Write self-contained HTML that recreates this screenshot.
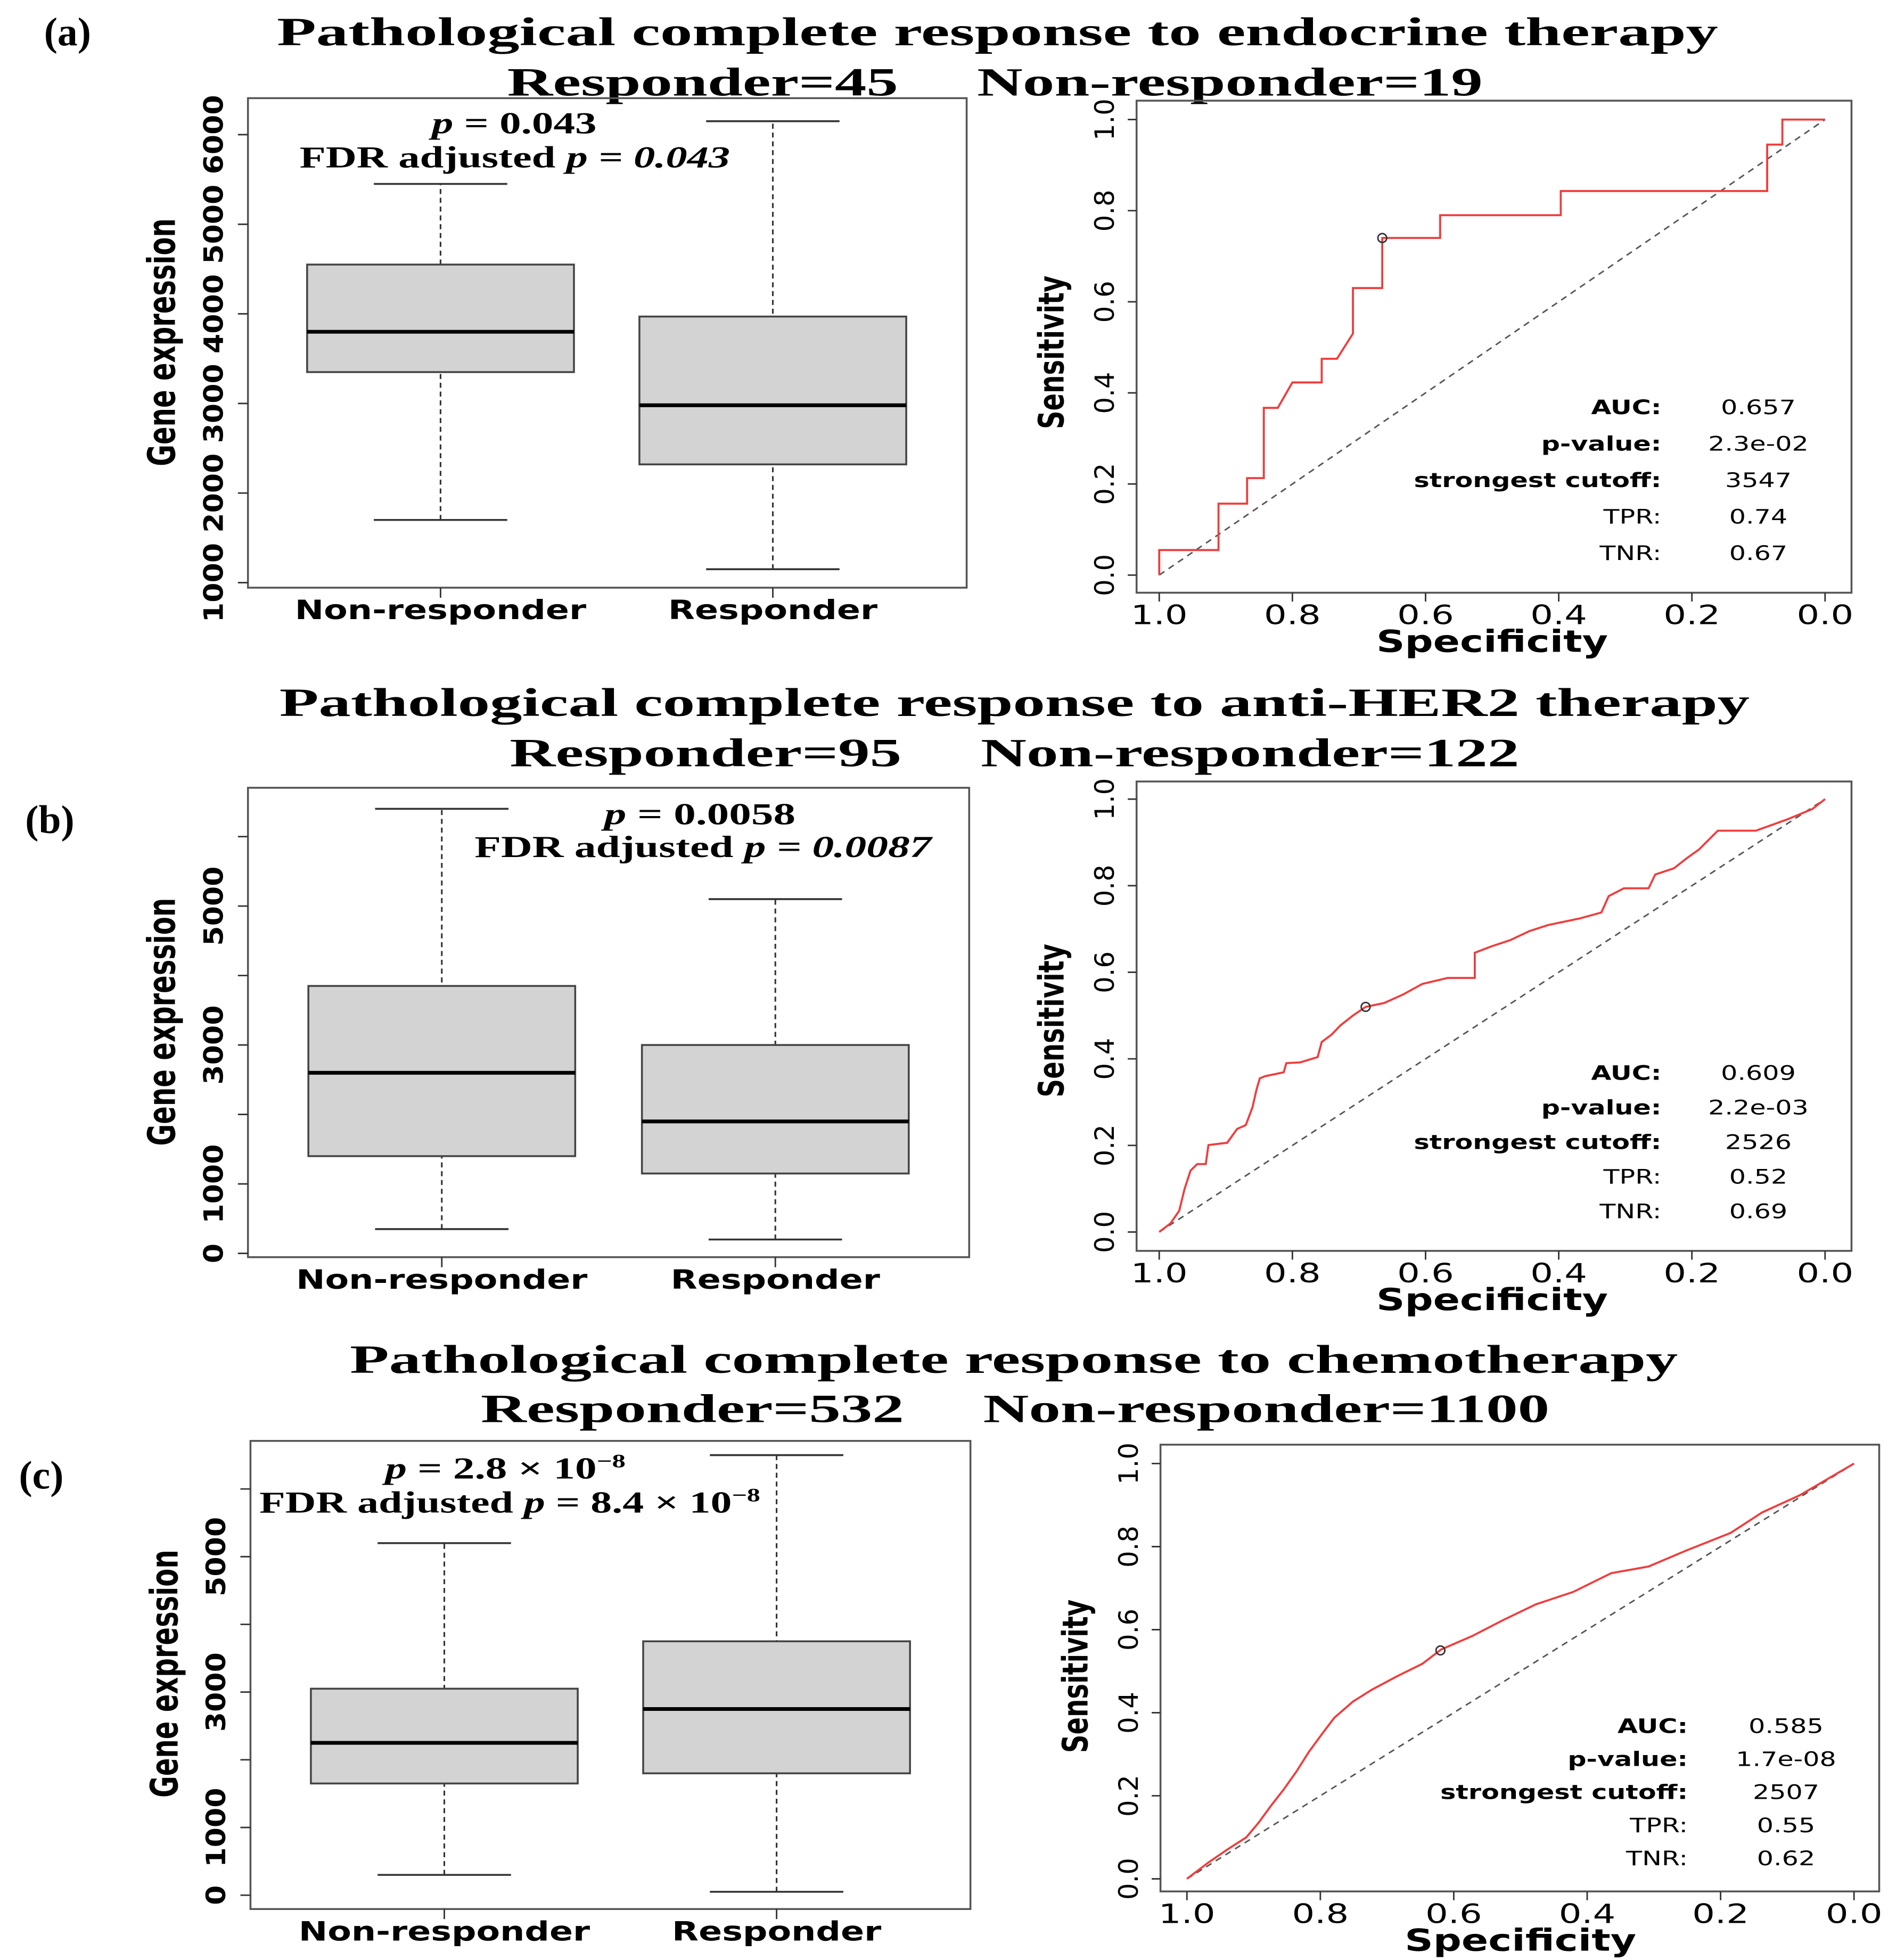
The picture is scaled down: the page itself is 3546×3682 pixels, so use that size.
<!DOCTYPE html>
<html><head><meta charset="utf-8"><style>
html,body{margin:0;padding:0;background:#fff;}
svg{display:block;}
.title{font-family:"Liberation Serif",serif;font-weight:bold;font-size:32px;fill:#000;}
.lbl{font-family:"DejaVu Sans",sans-serif;font-weight:bold;fill:#000;}
.tick{font-family:"DejaVu Sans",sans-serif;font-size:21px;fill:#000;}
.ptxt{font-family:"Liberation Serif",serif;font-weight:bold;font-size:24px;fill:#000;}
.stat{font-family:"DejaVu Sans",sans-serif;font-size:16px;fill:#000;}
</style></head><body>
<svg id="fig" width="3546" height="3682" viewBox="0 0 1500 1557.5" preserveAspectRatio="none" xmlns="http://www.w3.org/2000/svg">
<rect x="0" y="0" width="1500" height="1558" fill="#fff"/>
<text class="title" x="35" y="36" font-size="34">(a)</text>
<text class="title" x="220" y="36" textLength="1145" lengthAdjust="spacingAndGlyphs">Pathological complete response to endocrine therapy</text>
<text class="title" x="403" y="76" textLength="775" lengthAdjust="spacingAndGlyphs" xml:space="preserve">Responder=45     Non-responder=19</text>
<text class="title" x="20" y="662" font-size="34">(b)</text>
<text class="title" x="222" y="569" textLength="1168" lengthAdjust="spacingAndGlyphs">Pathological complete response to anti-HER2 therapy</text>
<text class="title" x="405" y="609" textLength="802" lengthAdjust="spacingAndGlyphs" xml:space="preserve">Responder=95     Non-responder=122</text>
<text class="title" x="15" y="1183" font-size="34">(c)</text>
<text class="title" x="278" y="1091" textLength="1055" lengthAdjust="spacingAndGlyphs">Pathological complete response to chemotherapy</text>
<text class="title" x="382" y="1130" textLength="849" lengthAdjust="spacingAndGlyphs" xml:space="preserve">Responder=532     Non-responder=1100</text>
<text class="ptxt" x="343" y="106" textLength="131" lengthAdjust="spacingAndGlyphs"><tspan font-style="italic">p</tspan> = 0.043</text>
<text class="ptxt" x="238" y="133" textLength="342" lengthAdjust="spacingAndGlyphs">FDR adjusted <tspan font-style="italic">p = 0.043</tspan></text>
<text class="ptxt" x="480" y="655" textLength="152" lengthAdjust="spacingAndGlyphs"><tspan font-style="italic">p</tspan> = 0.0058</text>
<text class="ptxt" x="377" y="681" textLength="363" lengthAdjust="spacingAndGlyphs">FDR adjusted <tspan font-style="italic">p = 0.0087</tspan></text>
<text class="ptxt" x="306" y="1175" textLength="191" lengthAdjust="spacingAndGlyphs"><tspan font-style="italic">p</tspan> = 2.8 × 10<tspan font-size="15" dy="-9">−8</tspan></text>
<text class="ptxt" x="206" y="1202" textLength="398" lengthAdjust="spacingAndGlyphs">FDR adjusted <tspan font-style="italic">p</tspan> = 8.4 × 10<tspan font-size="15" dy="-9">−8</tspan></text>
<g id="layer"></g>
</svg>
<script>
const NS="http://www.w3.org/2000/svg";
// ---------- DATA ----------
const categories=["Non-responder","Responder"];
// [lower whisker, q1, median, q3, upper whisker]
const boxA_nonresp=[1700,3350,3800,4550,5450];
const boxA_resp=[1150,2320,2980,3970,6150];
const boxB_nonresp=[350,1400,2600,3850,6400];
const boxB_resp=[200,1150,1900,3000,5100];
const boxC_nonresp=[300,1650,2250,3050,5200];
const boxC_resp=[50,1800,2750,3750,6500];
const yTicksA=[1000,2000,3000,4000,5000,6000];
const yLabelsA=["1000","2000","3000","4000","5000","6000"];
const yTicksB=[0,1000,2000,3000,4000,5000,6000];
const yLabelsB=["0","1000","","3000","","5000",""];
const yTicksC=[0,1000,2000,3000,4000,5000,6000];
const yLabelsC=["0","1000","","3000","","5000",""];
const rocTicks=[1,0.8,0.6,0.4,0.2,0];
const rocTickLabels=["1.0","0.8","0.6","0.4","0.2","0.0"];
const rocYTicks=[0,0.2,0.4,0.6,0.8,1];
const rocYTickLabels=["0.0","0.2","0.4","0.6","0.8","1.0"];
const rocA_spec=[1,1,.911,.911,.868,.868,.843,.843,.822,.80,.756,.756,.733,.709,.709,.665,.665,.578,.578,.397,.397,.087,.087,.064,.064,0];
const rocA_sens=[0,.055,.055,.157,.157,.213,.213,.367,.367,.423,.423,.475,.475,.530,.630,.630,.740,.740,.790,.790,.843,.843,.945,.945,1,1];
const rocA_best=[0.665,0.74];
const rocB_spec=[1,.983,.970,.962,.953,.943,.930,.926,.898,.883,.870,.860,.854,.849,.841,.813,.809,.788,.762,.756,.741,.728,.709,.690,.662,.633,.605,.567,.526,.526,.501,.473,.444,.416,.369,.336,.325,.302,.265,.255,.227,.208,.189,.161,.104,.057,.019,0];
const rocB_sens=[0,.020,.049,.099,.142,.157,.157,.201,.206,.238,.247,.288,.328,.355,.360,.369,.390,.392,.404,.439,.456,.477,.500,.520,.529,.549,.573,.587,.587,.645,.660,.674,.695,.709,.724,.738,.776,.794,.794,.826,.840,.863,.884,.927,.927,.953,.977,1];
const rocB_best=[0.69,0.52];
const rocC_spec=[1,.968,.940,.911,.892,.874,.855,.836,.817,.798,.779,.751,.723,.685,.647,.619,.572,.525,.477,.421,.364,.308,.251,.185,.138,.081,0];
const rocC_sens=[0,.039,.070,.100,.136,.176,.215,.258,.306,.348,.388,.427,.455,.488,.518,.552,.585,.624,.661,.691,.736,.752,.791,.833,.882,.924,1];
const rocC_best=[0.62,0.55];
const statLabels=["AUC:","p-value:","strongest cutoff:","TPR:","TNR:"];
const statsA=["0.657","2.3e-02","3547","0.74","0.67"];
const statsB=["0.609","2.2e-03","2526","0.52","0.69"];
const statsC=["0.585","1.7e-08","2507","0.55","0.62"];

// ---------- LAYOUT ----------
const layer=document.getElementById('layer');
function el(tag,attrs,text){const e=document.createElementNS(NS,tag);for(const k in attrs)e.setAttribute(k,attrs[k]);if(text!==undefined)e.textContent=text;layer.appendChild(e);return e;}
function stretch(e,f){const w=e.getComputedTextLength();e.setAttribute('textLength',(w*f).toFixed(1));e.setAttribute('lengthAdjust','spacingAndGlyphs');}

function boxPlot(id,L,boxes,ticks,labels){
  const ys=v=>L.y0px+(v-L.y0val)*(L.y1px-L.y0px)/(L.y1val-L.y0val);
  let f=el('rect',{x:L.fx0,y:L.fy0,width:L.fx1-L.fx0,height:L.fy1-L.fy0,fill:'none',stroke:'#555','stroke-width':1.5});
  
  
  ticks.forEach((t,i)=>{
    let tk=el('line',{x1:L.fx0-8,x2:L.fx0,y1:ys(t),y2:ys(t),stroke:'#333','stroke-width':1.2});
    
    
    if(labels[i]){
      let y=ys(t);
      let tl=el('text',{class:'tick','font-weight':'bold','text-anchor':'middle',x:0,y:0,transform:`translate(${L.fx0-20},${y}) rotate(-90)`},labels[i]);
      
      
      stretch(tl,1.08);
    }
  });
  let yt=el('text',{class:'lbl','font-size':30,'text-anchor':'middle',textLength:197,lengthAdjust:'spacingAndGlyphs',transform:`translate(${L.fx0-58},${L.ytitleY}) rotate(-90)`},'Gene expression');
  
  
  boxes.forEach((b,i)=>{
    const cx=L.centers[i];
    let w=el('line',{x1:cx,x2:cx,y1:ys(b[0]),y2:ys(b[4]),stroke:'#333','stroke-width':1.3,'stroke-dasharray':'4,3'});
    
    
    [b[0],b[4]].forEach(v=>{
      let c=el('line',{x1:cx-L.cap,x2:cx+L.cap,y1:ys(v),y2:ys(v),stroke:'#333','stroke-width':1.5});
      
      
    });
    let r=el('rect',{x:cx-L.hw,y:ys(b[3]),width:2*L.hw,height:ys(b[1])-ys(b[3]),fill:'#d3d3d3',stroke:'#444','stroke-width':1.5});
    
    
    let m=el('line',{x1:cx-L.hw,x2:cx+L.hw,y1:ys(b[2]),y2:ys(b[2]),stroke:'#000','stroke-width':3});
    
    
    let xt=el('line',{x1:cx,x2:cx,y1:L.fy1,y2:L.fy1+8,stroke:'#333','stroke-width':1.2});
    
    
    let xl=el('text',{class:'lbl','font-size':21,'text-anchor':'middle',x:cx,y:L.fy1+25},categories[i]);
    
    
    stretch(xl,1.31);
  });
}

function roc(id,L,spec,sens,best,stats){
  const xs=v=>L.x0+(1-v)*(L.x1-L.x0);
  const ys=v=>L.y0+v*(L.y1-L.y0);
  let f=el('rect',{x:L.fx0,y:L.fy0,width:L.fx1-L.fx0,height:L.fy1-L.fy0,fill:'none',stroke:'#555','stroke-width':1.5});
  
  
  rocTicks.forEach((t,i)=>{
    let tk=el('line',{x1:xs(t),x2:xs(t),y1:L.fy1,y2:L.fy1+7,stroke:'#333','stroke-width':1.2});
    
    
    let tl=el('text',{class:'tick','text-anchor':'middle',x:xs(t),y:L.fy1+25},rocTickLabels[i]);
    
    
    stretch(tl,1.35);
  });
  rocYTicks.forEach((t,i)=>{
    let tk=el('line',{x1:L.fx0-7,x2:L.fx0,y1:ys(t),y2:ys(t),stroke:'#333','stroke-width':1.2});
    
    
    let tl=el('text',{class:'tick','text-anchor':'middle',transform:`translate(${L.fx0-18},${ys(t)}) rotate(-90)`},rocYTickLabels[i]);
    
    
  });
  let xt=el('text',{class:'lbl','font-size':24,'text-anchor':'middle',textLength:184,lengthAdjust:'spacingAndGlyphs',x:(L.x0+L.x1)/2,y:L.fy1+47},'Specificity');
  
  
  let yt=el('text',{class:'lbl','font-size':28,'text-anchor':'middle',textLength:122,lengthAdjust:'spacingAndGlyphs',transform:`translate(${L.fx0-58},${(L.y0+L.y1)/2+4}) rotate(-90)`},'Sensitivity');
  
  
  let d=el('line',{x1:xs(1),y1:ys(0),x2:xs(0),y2:ys(1),stroke:'#555','stroke-width':1.2,'stroke-dasharray':'5,4'});
  
  
  const pts=spec.map((s,i)=>xs(s).toFixed(1)+','+ys(sens[i]).toFixed(1)).join(' ');
  let c=el('polyline',{points:pts,fill:'none',stroke:'#f03c3c','stroke-width':1.6});
  
  
  let p=el('circle',{cx:xs(best[0]),cy:ys(best[1]),r:3.5,fill:'none',stroke:'#333','stroke-width':1.2});
  
  
  stats.forEach((v,i)=>{
    const y=L.statY+i*L.statDy;
    let a=el('text',{class:'stat','text-anchor':'end','font-weight':i<3?'bold':'normal',x:L.statLx,y:y},statLabels[i]);
    
    
    stretch(a,1.3);
    let b=el('text',{class:'stat','text-anchor':'middle',x:L.statVx,y:y},v);
    
    
    stretch(b,1.3);
  });
}

boxPlot('box-a',{fx0:197,fy0:78,fx1:768,fy1:467,y0val:1000,y0px:463,y1val:6000,y1px:107,centers:[350,614],hw:106,cap:53,ytitleY:272},[boxA_nonresp,boxA_resp],yTicksA,yLabelsA);
boxPlot('box-b',{fx0:197,fy0:626,fx1:770,fy1:999,y0val:0,y0px:996,y1val:5000,y1px:720,centers:[351,616],hw:106,cap:53,ytitleY:812},[boxB_nonresp,boxB_resp],yTicksB,yLabelsB);
boxPlot('box-c',{fx0:199,fy0:1145,fx1:771,fy1:1517,y0val:0,y0px:1506,y1val:5000,y1px:1237,centers:[353,617],hw:106,cap:53,ytitleY:1330},[boxC_nonresp,boxC_resp],yTicksC,yLabelsC);

roc('roc-a',{fx0:903,fy0:80,fx1:1471,fy1:471,x0:921,x1:1450,y0:457,y1:95,statY:329,statDy:29,statLx:1320,statVx:1397},rocA_spec,rocA_sens,rocA_best,statsA);
roc('roc-b',{fx0:903,fy0:621,fx1:1471,fy1:994,x0:921,x1:1450,y0:979,y1:635,statY:858,statDy:27.5,statLx:1320,statVx:1397},rocB_spec,rocB_sens,rocB_best,statsB);
roc('roc-c',{fx0:922,fy0:1148,fx1:1493,fy1:1503,x0:943,x1:1473,y0:1493,y1:1163,statY:1377,statDy:26.3,statLx:1341,statVx:1419},rocC_spec,rocC_sens,rocC_best,statsC);
</script>
</body></html>
